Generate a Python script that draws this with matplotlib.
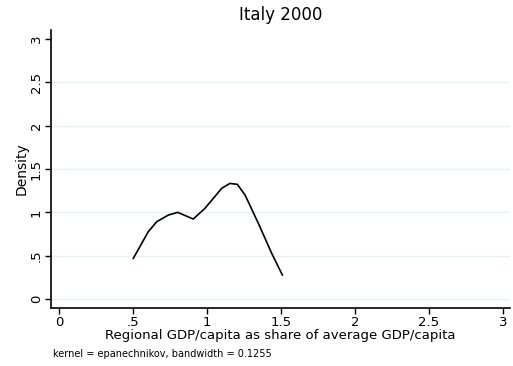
import matplotlib.pyplot as plt

# kernel density estimate of regional GDP/capita share, Italy 2000
share = [0.502, 0.603, 0.660, 0.739, 0.802, 0.907, 0.986, 1.099, 1.155, 1.205, 1.257, 1.347, 1.437, 1.509]
density = [0.469, 0.776, 0.892, 0.969, 1.000, 0.923, 1.046, 1.277, 1.334, 1.323, 1.200, 0.873, 0.527, 0.277]

ticks = [0, 0.5, 1, 1.5, 2, 2.5, 3]
tick_labels = ["0", ".5", "1", "1.5", "2", "2.5", "3"]

plt.rcParams['font.family'] = ['DejaVu Sans']

fig = plt.figure(figsize=(5.13, 3.66), dpi=100)
ax = fig.add_axes([0.0994, 0.1598, 0.8948, 0.7582])

# light grid at every y tick except the top one
for t in ticks[:-1]:
    ax.axhline(t, color="#e9f1f1", lw=1.0, zorder=0)

ax.plot(share, density, color="black", lw=1.2)

ax.set_xlim(-0.054, 3.047)
ax.set_ylim(-0.098, 3.104)
ax.set_xticks(ticks)
ax.set_xticklabels(tick_labels, fontsize=9.5)
ax.set_yticks(ticks)
ax.set_yticklabels(tick_labels, fontsize=9.5, rotation=90, va="center")
ax.tick_params(direction="out", length=4, width=1, pad=2)

for s in ["top", "right"]:
    ax.spines[s].set_visible(False)
for s in ["left", "bottom"]:
    ax.spines[s].set_linewidth(1.2)

ax.set_title("Italy 2000", fontsize=12, pad=7)
ax.set_xlabel("Regional GDP/capita as share of average GDP/capita", fontsize=9.5, labelpad=0)
ax.set_ylabel("Density", fontsize=10, labelpad=1)

fig.text(53 / 513, 1 - 354 / 366, "kernel = epanechnikov, bandwidth = 0.1255",
         fontsize=7, va="center", ha="left")

fig.savefig("out.png", dpi=100)
